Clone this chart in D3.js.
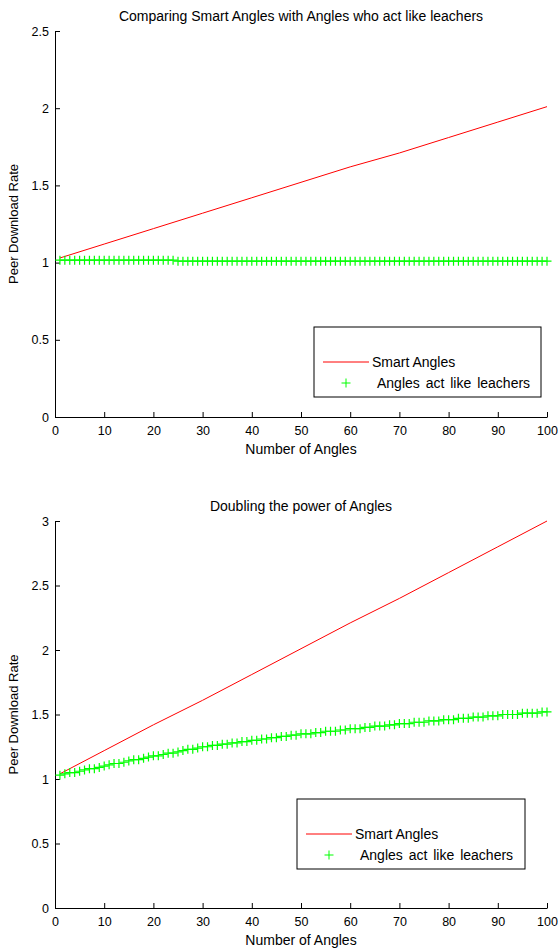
<!DOCTYPE html>
<html>
<head>
    <meta charset="UTF-8">
    <title>Smart Angles vs leachers</title>
    <script src="https://d3js.org/d3.v7.min.js"></script>
    <style>
        body {
            margin: 0;
            background: #fff;
        }
        svg text {
            font-family: "Liberation Sans", Arial, sans-serif;
            fill: #000;
        }
        .axis path, .axis line {
            stroke: #000;
        }
    </style>
</head>
<body>
    <div id="chart"></div>

    <script>
        // ---- data ----
        const xTicks = [0, 10, 20, 30, 40, 50, 60, 70, 80, 90, 100];
        const yTicksTop = [0, 0.5, 1, 1.5, 2, 2.5];
        const yTicksBottom = [0, 0.5, 1, 1.5, 2, 2.5, 3];

        // red line, sampled at these x values
        const smartX = [1, 10, 20, 30, 40, 50, 60, 70, 80, 90, 100];
        const smartTop = [1.03, 1.12, 1.22, 1.32, 1.42, 1.52, 1.62, 1.71, 1.81, 1.91, 2.01];
        const smartBottom = [1.04, 1.22, 1.42, 1.61, 1.81, 2.01, 2.21, 2.40, 2.60, 2.80, 3.00];

        // green markers, one per angle count 1..100
        const leachTop = [
            1.016, 1.016, 1.016, 1.016, 1.016, 1.016, 1.016, 1.016, 1.016, 1.016,
            1.016, 1.016, 1.016, 1.016, 1.016, 1.016, 1.016, 1.016, 1.016, 1.016,
            1.016, 1.016, 1.016, 1.016, 1.009, 1.009, 1.009, 1.009, 1.009, 1.009,
            1.009, 1.009, 1.009, 1.009, 1.009, 1.009, 1.009, 1.009, 1.009, 1.009,
            1.009, 1.009, 1.009, 1.009, 1.009, 1.009, 1.009, 1.009, 1.009, 1.009,
            1.009, 1.009, 1.009, 1.009, 1.009, 1.009, 1.009, 1.009, 1.009, 1.009,
            1.009, 1.009, 1.009, 1.009, 1.009, 1.009, 1.009, 1.009, 1.009, 1.009,
            1.009, 1.009, 1.009, 1.009, 1.009, 1.009, 1.009, 1.009, 1.009, 1.009,
            1.009, 1.009, 1.009, 1.009, 1.009, 1.009, 1.009, 1.009, 1.009, 1.009,
            1.009, 1.009, 1.009, 1.009, 1.009, 1.009, 1.009, 1.009, 1.009, 1.009
        ];
        const leachBottom = [
            1.03, 1.04, 1.05, 1.05, 1.06, 1.07, 1.08, 1.08, 1.09, 1.10,
            1.11, 1.12, 1.12, 1.13, 1.14, 1.15, 1.15, 1.16, 1.17, 1.18,
            1.18, 1.19, 1.20, 1.20, 1.21, 1.22, 1.23, 1.23, 1.24, 1.25,
            1.25, 1.26, 1.26, 1.27, 1.27, 1.28, 1.28, 1.29, 1.29, 1.30,
            1.30, 1.31, 1.31, 1.32, 1.32, 1.33, 1.33, 1.34, 1.34, 1.35,
            1.35, 1.35, 1.36, 1.36, 1.37, 1.37, 1.37, 1.38, 1.38, 1.39,
            1.39, 1.39, 1.40, 1.40, 1.41, 1.41, 1.41, 1.42, 1.42, 1.43,
            1.43, 1.43, 1.44, 1.44, 1.44, 1.45, 1.45, 1.45, 1.46, 1.46,
            1.46, 1.47, 1.47, 1.47, 1.48, 1.48, 1.48, 1.49, 1.49, 1.49,
            1.50, 1.50, 1.50, 1.50, 1.51, 1.51, 1.51, 1.51, 1.52, 1.52
        ];

        const seriesNames = ["Smart Angles", "Angles act like leachers"];
        const titles = ["Comparing Smart Angles with Angles who act like leachers", "Doubling the power of Angles"];

        const width = 558, height = 948;

        const svg = d3.select("#chart")
            .append("svg")
            .attr("width", width)
            .attr("height", height);

        const plusPath = "M-4.5,0H4.5M0,-4.5V4.5";

        function drawPanel(p) {
            const x = d3.scaleLinear().domain([0, 100]).range([55, 547]);
            const y = d3.scaleLinear().domain([0, p.yMax]).range([p.bottom, p.top]);
            const g = svg.append("g");

            // axes, ticks point inward like matlab
            g.append("g")
                .attr("class", "axis")
                .attr("transform", `translate(0,${p.bottom})`)
                .call(d3.axisBottom(x).tickValues(xTicks).tickSizeInner(-5).tickSizeOuter(0).tickPadding(9))
                .call(a => a.selectAll("text").style("font-size", "12.5px").attr("fill", "#000"));

            g.append("g")
                .attr("class", "axis")
                .attr("transform", "translate(55,0)")
                .call(d3.axisLeft(y).tickValues(p.yTicks).tickFormat(d3.format("~g")).tickSizeInner(-5).tickSizeOuter(0).tickPadding(6))
                .call(a => a.selectAll("text").style("font-size", "12.5px").attr("fill", "#000"));

            g.selectAll(".domain").attr("stroke", "#000");
            g.selectAll("text").attr("font-family", null);

            // title and labels
            g.append("text")
                .attr("x", 301).attr("y", p.titleY)
                .attr("text-anchor", "middle")
                .style("font-size", "14px")
                .text(p.title);

            g.append("text")
                .attr("x", 301).attr("y", p.bottom + 37)
                .attr("text-anchor", "middle")
                .style("font-size", "14px")
                .text("Number of Angles");

            g.append("text")
                .attr("transform", `translate(18,${(p.top + p.bottom) / 2}) rotate(-90)`)
                .attr("text-anchor", "middle")
                .style("font-size", "13px")
                .text("Peer Download Rate");

            // red line
            const line = d3.line()
                .x((d, i) => x(smartX[i]))
                .y(d => y(d));

            g.append("path")
                .datum(p.smart)
                .attr("fill", "none")
                .attr("stroke", "#ff0000")
                .attr("stroke-width", 1)
                .attr("d", line);

            // green plus markers
            g.selectAll("path.leach")
                .data(p.leach)
                .join("path")
                .attr("class", "leach")
                .attr("transform", (d, i) => `translate(${x(i + 1)},${y(d)})`)
                .attr("d", plusPath)
                .attr("stroke", "#00ff00")
                .attr("stroke-width", 1.2)
                .attr("fill", "none");

            // legend
            const L = p.legend;
            const lg = g.append("g").attr("transform", `translate(${L.x},${L.y})`);
            lg.append("rect")
                .attr("width", L.w).attr("height", L.h)
                .attr("fill", "#fff")
                .attr("stroke", "#000");
            lg.append("line")
                .attr("x1", 9).attr("x2", 55)
                .attr("y1", 35).attr("y2", 35)
                .attr("stroke", "#ff0000");
            lg.append("text")
                .attr("x", 58).attr("y", 35).attr("dy", "0.35em")
                .style("font-size", "14px")
                .text(seriesNames[0]);
            lg.append("path")
                .attr("transform", "translate(32,56)")
                .attr("d", plusPath)
                .attr("stroke", "#00ff00")
                .attr("fill", "none");
            lg.append("text")
                .attr("x", 63).attr("y", 56).attr("dy", "0.35em")
                .style("font-size", "14px")
                .style("word-spacing", "2px")
                .text(seriesNames[1]);
        }

        drawPanel({
            top: 31, bottom: 417, yMax: 2.5, yTicks: yTicksTop,
            titleY: 21, title: titles[0],
            smart: smartTop, leach: leachTop,
            legend: {x: 314, y: 327, w: 227, h: 70}
        });

        drawPanel({
            top: 521, bottom: 908, yMax: 3, yTicks: yTicksBottom,
            titleY: 511, title: titles[1],
            smart: smartBottom, leach: leachBottom,
            legend: {x: 297, y: 799, w: 228, h: 70}
        });
    </script>
</body>
</html>
